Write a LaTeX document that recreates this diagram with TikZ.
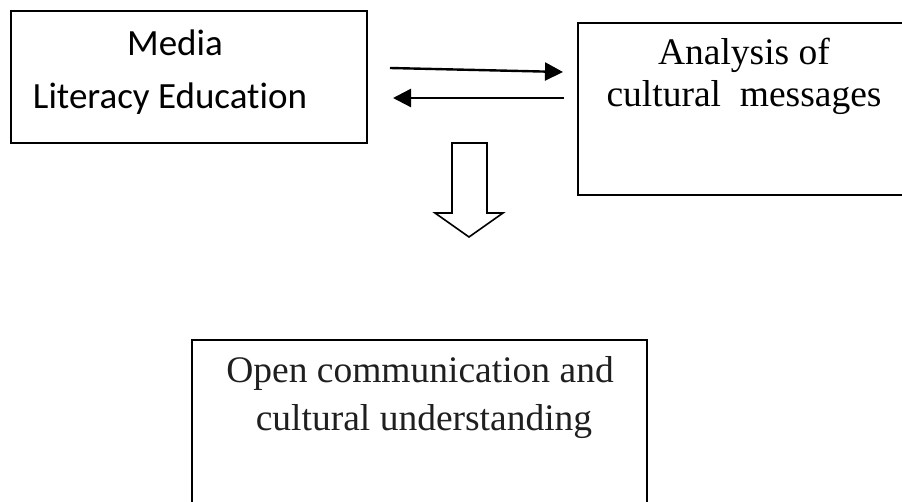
\documentclass[tikz,border=0pt]{standalone}
\usepackage{fontspec}
\setmainfont{Liberation Serif}
\newfontfamily\calibri[Ligatures=NoCommon]{Carlito}
\usetikzlibrary{arrows.meta}
\begin{document}
\begin{tikzpicture}[x=1pt,y=-1pt,
  box/.style={draw,line width=1.8pt,inner sep=0pt,anchor=north west},
  cal/.style={font=\calibri\fontsize{37}{44}\selectfont,anchor=base,inner sep=0pt},
  tms/.style={font=\fontsize{37.5}{44}\selectfont,anchor=base,inner sep=0pt},
  flow/.style={line width=2.4pt,-{Triangle[length=18pt,width=18pt]}},
  hollow/.style={draw,line width=1.6pt,line join=miter}]
\clip (0,0) rectangle (902,502);
\fill[white] (0,0) rectangle (902,502);
% boxes
\node[box,minimum width=356pt,minimum height=132pt] (media) at (10,10) {};
\node[box,minimum width=360pt,minimum height=172pt] (analysis) at (577,22) {};
\node[box,minimum width=455pt,minimum height=220pt] (open) at (191,339) {};
% texts
\node[cal] (t1) at (175,56) {Media};
\node[cal] (t2) at (170,109) {Literacy Education};
\node[tms] (t3) at (744,65) {Analysis of};
\node[tms] (t4) at (744,107) {cultural\ \ messages};
\node[tms,text=black!88] (t5) at (420,383) {Open communication and};
\node[tms,text=black!88] (t6) at (424,430) {cultural understanding};
% two-way arrows
\coordinate (r1) at (390,68);
\coordinate (r2) at (563,72);
\coordinate (l1) at (564,98);
\coordinate (l2) at (393,98);
\draw[flow] (r1) -- (r2);
\draw[flow] (l1) -- (l2);
% hollow down arrow
\path[hollow] (452,143) -- (487,143) -- (487,213) -- (503,213) -- (469,237)
  -- (435,213) -- (452,213) -- cycle;
\end{tikzpicture}
\end{document}
